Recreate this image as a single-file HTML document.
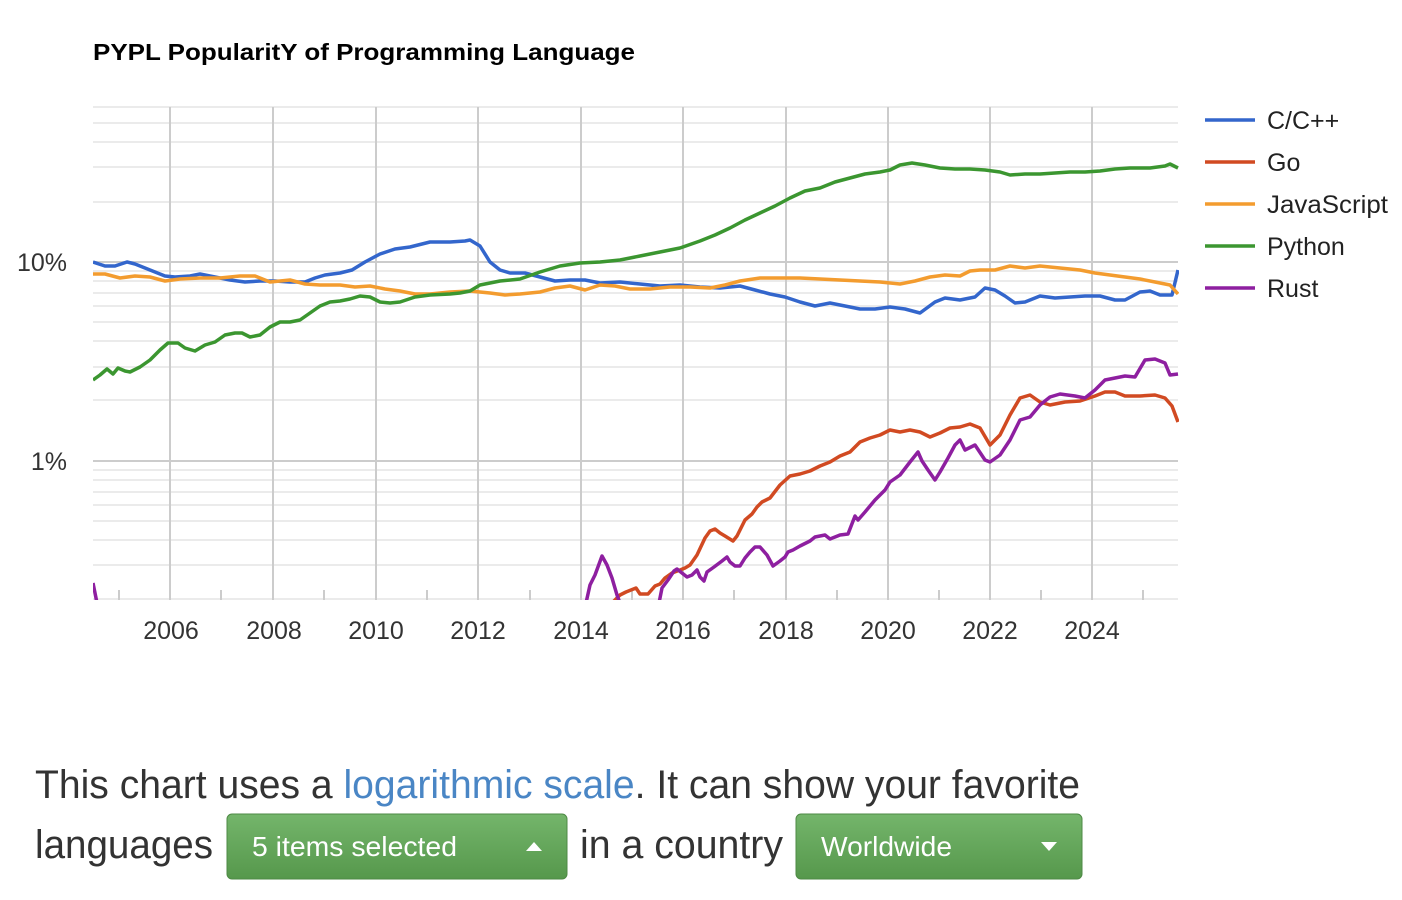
<!DOCTYPE html>
<html><head><meta charset="utf-8"><style>
html,body{margin:0;padding:0;background:#fff;}
svg{display:block;font-family:"Liberation Sans",Arial,sans-serif;}
</style></head><body>
<svg width="1402" height="900" viewBox="0 0 1402 900" xmlns="http://www.w3.org/2000/svg">
<defs>
<linearGradient id="gb" x1="0" y1="0" x2="0" y2="1"><stop offset="0" stop-color="#74b56b"/><stop offset="1" stop-color="#56984c"/></linearGradient>
</defs>
<text x="93" y="60" font-size="23" font-weight="bold" fill="#000" textLength="542" lengthAdjust="spacingAndGlyphs">PYPL PopularitY of Programming Language</text>
<g stroke="#ebebeb" stroke-width="2">
<line x1="93" x2="1178" y1="107" y2="107"/><line x1="93" x2="1178" y1="123" y2="123"/><line x1="93" x2="1178" y1="142" y2="142"/><line x1="93" x2="1178" y1="167" y2="167"/><line x1="93" x2="1178" y1="202" y2="202"/>
<line x1="93" x2="1178" y1="271" y2="271"/><line x1="93" x2="1178" y1="281" y2="281"/><line x1="93" x2="1178" y1="293" y2="293"/><line x1="93" x2="1178" y1="306" y2="306"/><line x1="93" x2="1178" y1="322" y2="322"/><line x1="93" x2="1178" y1="341" y2="341"/><line x1="93" x2="1178" y1="367" y2="367"/><line x1="93" x2="1178" y1="400" y2="400"/>
<line x1="93" x2="1178" y1="470" y2="470"/><line x1="93" x2="1178" y1="480" y2="480"/><line x1="93" x2="1178" y1="492" y2="492"/><line x1="93" x2="1178" y1="505" y2="505"/><line x1="93" x2="1178" y1="521" y2="521"/><line x1="93" x2="1178" y1="540" y2="540"/><line x1="93" x2="1178" y1="565" y2="565"/><line x1="93" x2="1178" y1="599" y2="599"/>
</g>
<g stroke="#cccccc" stroke-width="2">
<line x1="93" x2="1178" y1="262" y2="262"/><line x1="93" x2="1178" y1="461" y2="461"/>
<line x1="170" x2="170" y1="107" y2="600"/><line x1="273" x2="273" y1="107" y2="600"/><line x1="376" x2="376" y1="107" y2="600"/><line x1="478" x2="478" y1="107" y2="600"/><line x1="581" x2="581" y1="107" y2="600"/><line x1="683" x2="683" y1="107" y2="600"/><line x1="786" x2="786" y1="107" y2="600"/><line x1="888" x2="888" y1="107" y2="600"/><line x1="990" x2="990" y1="107" y2="600"/><line x1="1092" x2="1092" y1="107" y2="600"/>
<line x1="119" x2="119" y1="590" y2="600"/><line x1="221" x2="221" y1="590" y2="600"/><line x1="324" x2="324" y1="590" y2="600"/><line x1="427" x2="427" y1="590" y2="600"/><line x1="530" x2="530" y1="590" y2="600"/><line x1="632" x2="632" y1="590" y2="600"/><line x1="734" x2="734" y1="590" y2="600"/><line x1="837" x2="837" y1="590" y2="600"/><line x1="939" x2="939" y1="590" y2="600"/><line x1="1041" x2="1041" y1="590" y2="600"/><line x1="1143" x2="1143" y1="590" y2="600"/>
</g>
<g font-size="25" fill="#333">
<text x="67" y="271" text-anchor="end">10%</text><text x="67" y="470" text-anchor="end">1%</text>
<g text-anchor="middle"><text x="171" y="639">2006</text><text x="274" y="639">2008</text><text x="376" y="639">2010</text><text x="478" y="639">2012</text><text x="581" y="639">2014</text><text x="683" y="639">2016</text><text x="786" y="639">2018</text><text x="888" y="639">2020</text><text x="990" y="639">2022</text><text x="1092" y="639">2024</text></g>
</g>
<svg x="93" y="100" width="1086" height="500" viewBox="93 100 1086 500" overflow="hidden">
<g fill="none" stroke-width="3.5" stroke-linejoin="round">
<polyline stroke="#3366cc" points="93,262 105,266 115,266 127,262 135,264 145,268 155,272 165,276 175,277 190,276 200,274 215,277 230,280 245,282 260,281 275,281 290,282 305,282 315,278 325,275 340,273 352,270 365,262 380,254 395,249 410,247 430,242 450,242 465,241 470,240 480,246 490,262 500,270 510,273 525,273 540,277 555,281 570,280 585,280 600,283 620,282 640,284 660,286 680,285 700,287 720,288 740,286 755,290 770,294 785,297 800,302 815,306 830,303 845,306 860,309 875,309 890,307 905,309 920,313 935,302 945,298 960,300 975,297 985,288 995,290 1005,296 1015,303 1025,302 1040,296 1055,298 1070,297 1085,296 1100,296 1115,300 1125,300 1140,292 1150,291 1160,295 1172,295 1178,270"/>
<polyline stroke="#f39c2f" points="93,274 105,274 120,278 135,276 150,277 165,281 180,279 200,278 220,278 240,276 255,276 270,282 290,280 305,284 320,285 340,285 355,287 370,286 385,289 400,291 415,294 430,294 450,292 470,291 490,293 505,295 520,294 540,292 555,288 570,286 585,290 600,285 615,286 630,289 650,289 670,287 690,287 710,288 725,285 740,281 760,278 780,278 800,278 820,279 840,280 860,281 880,282 900,284 915,281 930,277 945,275 960,276 970,271 980,270 995,270 1010,266 1025,268 1040,266 1060,268 1080,270 1095,273 1110,275 1125,277 1140,279 1155,282 1170,285 1178,294"/>
<polyline stroke="#3b9630" points="93,380 100,375 107,369 113,374 118,368 125,371 130,372 140,367 150,360 160,350 168,343 178,343 185,348 195,351 205,345 215,342 225,335 235,333 242,333 250,337 260,335 270,327 280,322 290,322 300,320 310,313 320,306 330,302 340,301 350,299 360,296 370,297 380,302 390,303 400,302 415,297 430,295 450,294 460,293 470,291 480,285 490,283 500,281 520,279 540,272 560,266 580,263 600,262 620,260 640,256 660,252 680,248 700,241 715,235 730,228 745,220 760,213 775,206 790,198 805,191 820,188 835,182 850,178 865,174 880,172 890,170 900,165 912,163 925,165 940,168 955,169 970,169 985,170 1000,172 1010,175 1025,174 1040,174 1055,173 1070,172 1085,172 1100,171 1115,169 1130,168 1150,168 1165,166 1170,164 1178,168"/>
<polyline stroke="#d14a22" points="613,602 620,595 626,592 636,588 640,594 648,594 655,586 660,584 665,578 672,573 680,570 685,568 690,565 697,555 705,538 710,531 715,529 720,533 725,536 733,541 737,536 745,520 752,514 757,507 762,502 770,498 780,485 790,476 800,474 810,471 820,466 830,462 840,456 850,452 860,442 870,438 880,435 890,430 900,432 910,430 920,432 930,437 940,433 950,428 960,427 970,424 980,428 990,445 1000,435 1010,415 1020,398 1030,395 1040,402 1050,405 1065,402 1080,401 1095,396 1105,392 1115,392 1125,396 1140,396 1155,395 1165,398 1172,406 1178,422"/>
<polyline stroke="#8e1fa0" points="93,583 97,603"/>
<polyline stroke="#8e1fa0" points="586,603 590,585 595,575 602,556 607,565 612,578 617,595 620,603"/>
<polyline stroke="#8e1fa0" points="659,603 662,588 668,580 674,571 677,569 682,573 687,577 692,575 697,570 700,577 704,581 707,572 714,567 722,561 727,557 730,562 735,566 740,566 745,558 750,552 755,547 760,547 767,555 773,566 780,561 785,557 788,552 793,550 800,546 810,541 815,537 820,536 825,535 830,539 840,535 848,534 855,516 858,520 865,512 875,500 885,490 890,482 900,475 910,462 918,452 922,461 928,470 935,480 940,472 948,458 955,445 960,440 965,450 975,445 985,460 990,462 1000,455 1010,440 1020,420 1030,417 1040,405 1050,397 1060,394 1075,396 1085,398 1095,390 1105,380 1115,378 1125,376 1135,377 1145,360 1155,359 1165,363 1170,375 1178,374"/>
</g>
</svg>
<g stroke-width="3.5">
<line x1="1205" x2="1255" y1="120" y2="120" stroke="#3366cc"/>
<line x1="1205" x2="1255" y1="162" y2="162" stroke="#d14a22"/>
<line x1="1205" x2="1255" y1="204" y2="204" stroke="#f39c2f"/>
<line x1="1205" x2="1255" y1="246" y2="246" stroke="#3b9630"/>
<line x1="1205" x2="1255" y1="288" y2="288" stroke="#8e1fa0"/>
</g>
<g font-size="25" fill="#222">
<text x="1267" y="129">C/C++</text><text x="1267" y="171">Go</text><text x="1267" y="213" textLength="121" lengthAdjust="spacingAndGlyphs">JavaScript</text><text x="1267" y="255">Python</text><text x="1267" y="297">Rust</text>
</g>
<text x="35" y="798" font-size="40" fill="#333" textLength="1045" lengthAdjust="spacingAndGlyphs">This chart uses a <tspan fill="#4a86c5">logarithmic scale</tspan>. It can show your favorite</text>
<text x="35" y="858" font-size="40" fill="#333" textLength="178" lengthAdjust="spacingAndGlyphs">languages</text>
<rect x="227" y="814" width="340" height="65" rx="5" fill="url(#gb)" stroke="#4e8a45"/>
<text x="252" y="856" font-size="28" fill="#fff" textLength="205" lengthAdjust="spacingAndGlyphs">5 items selected</text>
<polygon points="526,851 542,851 534,842" fill="#fff"/>
<text x="580" y="858" font-size="40" fill="#333" textLength="203" lengthAdjust="spacingAndGlyphs">in a country</text>
<rect x="796" y="814" width="286" height="65" rx="5" fill="url(#gb)" stroke="#4e8a45"/>
<text x="821" y="856" font-size="28" fill="#fff" textLength="131" lengthAdjust="spacingAndGlyphs">Worldwide</text>
<polygon points="1041,842 1057,842 1049,851" fill="#fff"/>
</svg>
</body></html>
